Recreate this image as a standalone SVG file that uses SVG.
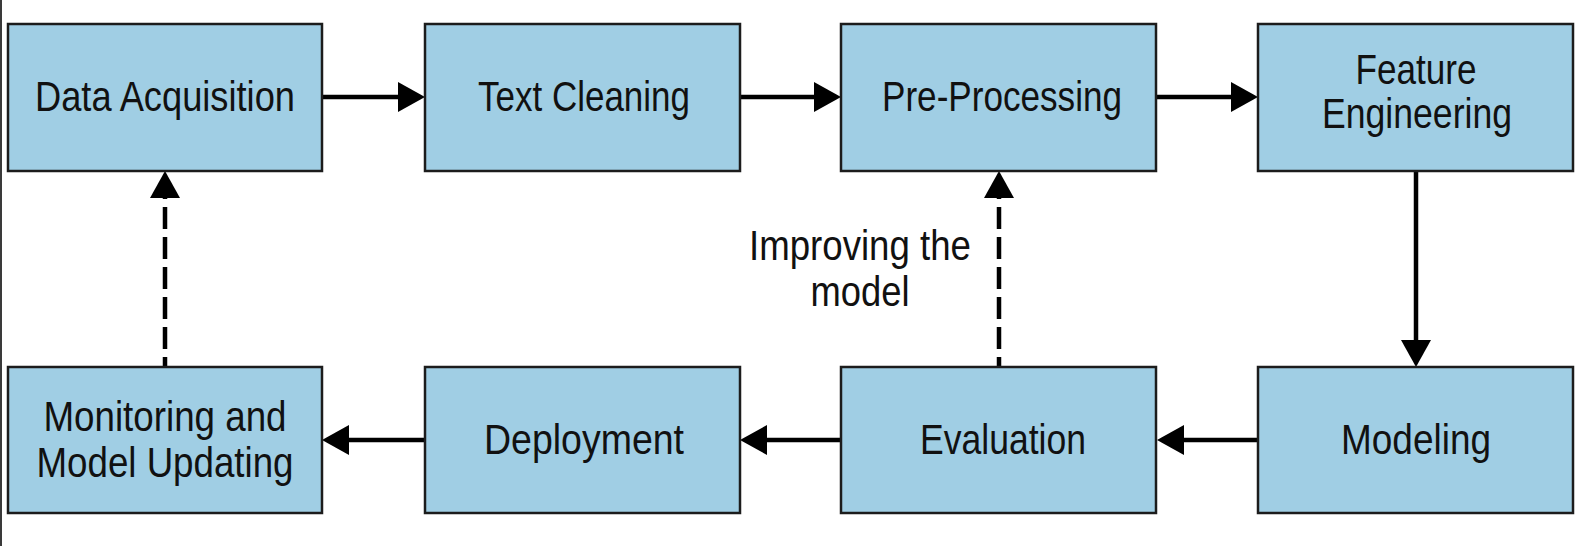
<svg xmlns="http://www.w3.org/2000/svg" width="1582" height="546" viewBox="0 0 1582 546">
  <style>
    .box { fill: #a0cee4; stroke: #1c1c1c; stroke-width: 2.5; }
    .lbl { font-family: "Liberation Sans Narrow", "Liberation Sans", Arial, sans-serif; font-size: 42px; fill: #111; text-anchor: middle; }
    .conn { stroke: #000; stroke-width: 4.5; fill: none; }
    .dash { stroke-dasharray: 22 8; stroke-dashoffset: 13; }
  </style>
  <defs>
    <marker id="ah" markerUnits="userSpaceOnUse" markerWidth="27" markerHeight="30" refX="0" refY="15" orient="auto">
      <path d="M0,0 L27,15 L0,30 Z" fill="#000"/>
    </marker>
  </defs>
  <rect width="1582" height="546" fill="#ffffff"/>
  <line x1="1" y1="0" x2="1" y2="546" stroke="#3a3a3a" stroke-width="2"/>

  <g id="connectors">
    <path class="conn" d="M323,97 L398,97" marker-end="url(#ah)"/>
    <path class="conn" d="M741,97 L814,97" marker-end="url(#ah)"/>
    <path class="conn" d="M1157,97 L1231,97" marker-end="url(#ah)"/>
    <path class="conn" d="M1416,172 L1416,340" marker-end="url(#ah)"/>
    <path class="conn" d="M1257,440 L1184,440" marker-end="url(#ah)"/>
    <path class="conn" d="M840,440 L767,440" marker-end="url(#ah)"/>
    <path class="conn" d="M424,440 L349,440" marker-end="url(#ah)"/>
    <path class="conn dash" d="M165,366 L165,198" marker-end="url(#ah)"/>
    <path class="conn dash" d="M999,366 L999,198" marker-end="url(#ah)"/>
  </g>

  <g id="data-acquisition">
    <rect class="box" x="8" y="24" width="314" height="147"/>
    <text class="lbl" x="165" y="111" textLength="260" lengthAdjust="spacingAndGlyphs">Data Acquisition</text>
  </g>
  <g id="text-cleaning">
    <rect class="box" x="425" y="24" width="315" height="147"/>
    <text class="lbl" x="584" y="111" textLength="212" lengthAdjust="spacingAndGlyphs">Text Cleaning</text>
  </g>
  <g id="pre-processing">
    <rect class="box" x="841" y="24" width="315" height="147"/>
    <text class="lbl" x="1002" y="111" textLength="240" lengthAdjust="spacingAndGlyphs">Pre-Processing</text>
  </g>
  <g id="feature-engineering">
    <rect class="box" x="1258" y="24" width="315" height="147"/>
    <text class="lbl" x="1416" y="84" textLength="121" lengthAdjust="spacingAndGlyphs">Feature</text>
    <text class="lbl" x="1417" y="128" textLength="190" lengthAdjust="spacingAndGlyphs">Engineering</text>
  </g>
  <g id="modeling">
    <rect class="box" x="1258" y="367" width="315" height="146"/>
    <text class="lbl" x="1416" y="454" textLength="150" lengthAdjust="spacingAndGlyphs">Modeling</text>
  </g>
  <g id="evaluation">
    <rect class="box" x="841" y="367" width="315" height="146"/>
    <text class="lbl" x="1003" y="454" textLength="166" lengthAdjust="spacingAndGlyphs">Evaluation</text>
  </g>
  <g id="deployment">
    <rect class="box" x="425" y="367" width="315" height="146"/>
    <text class="lbl" x="584" y="454" textLength="200" lengthAdjust="spacingAndGlyphs">Deployment</text>
  </g>
  <g id="monitoring">
    <rect class="box" x="8" y="367" width="314" height="146"/>
    <text class="lbl" x="165" y="431" textLength="243" lengthAdjust="spacingAndGlyphs">Monitoring and</text>
    <text class="lbl" x="165" y="477" textLength="257" lengthAdjust="spacingAndGlyphs">Model Updating</text>
  </g>
  <g id="improving-label">
    <text class="lbl" x="860" y="260" textLength="222" lengthAdjust="spacingAndGlyphs">Improving the</text>
    <text class="lbl" x="860" y="306" textLength="99" lengthAdjust="spacingAndGlyphs">model</text>
  </g>
</svg>
